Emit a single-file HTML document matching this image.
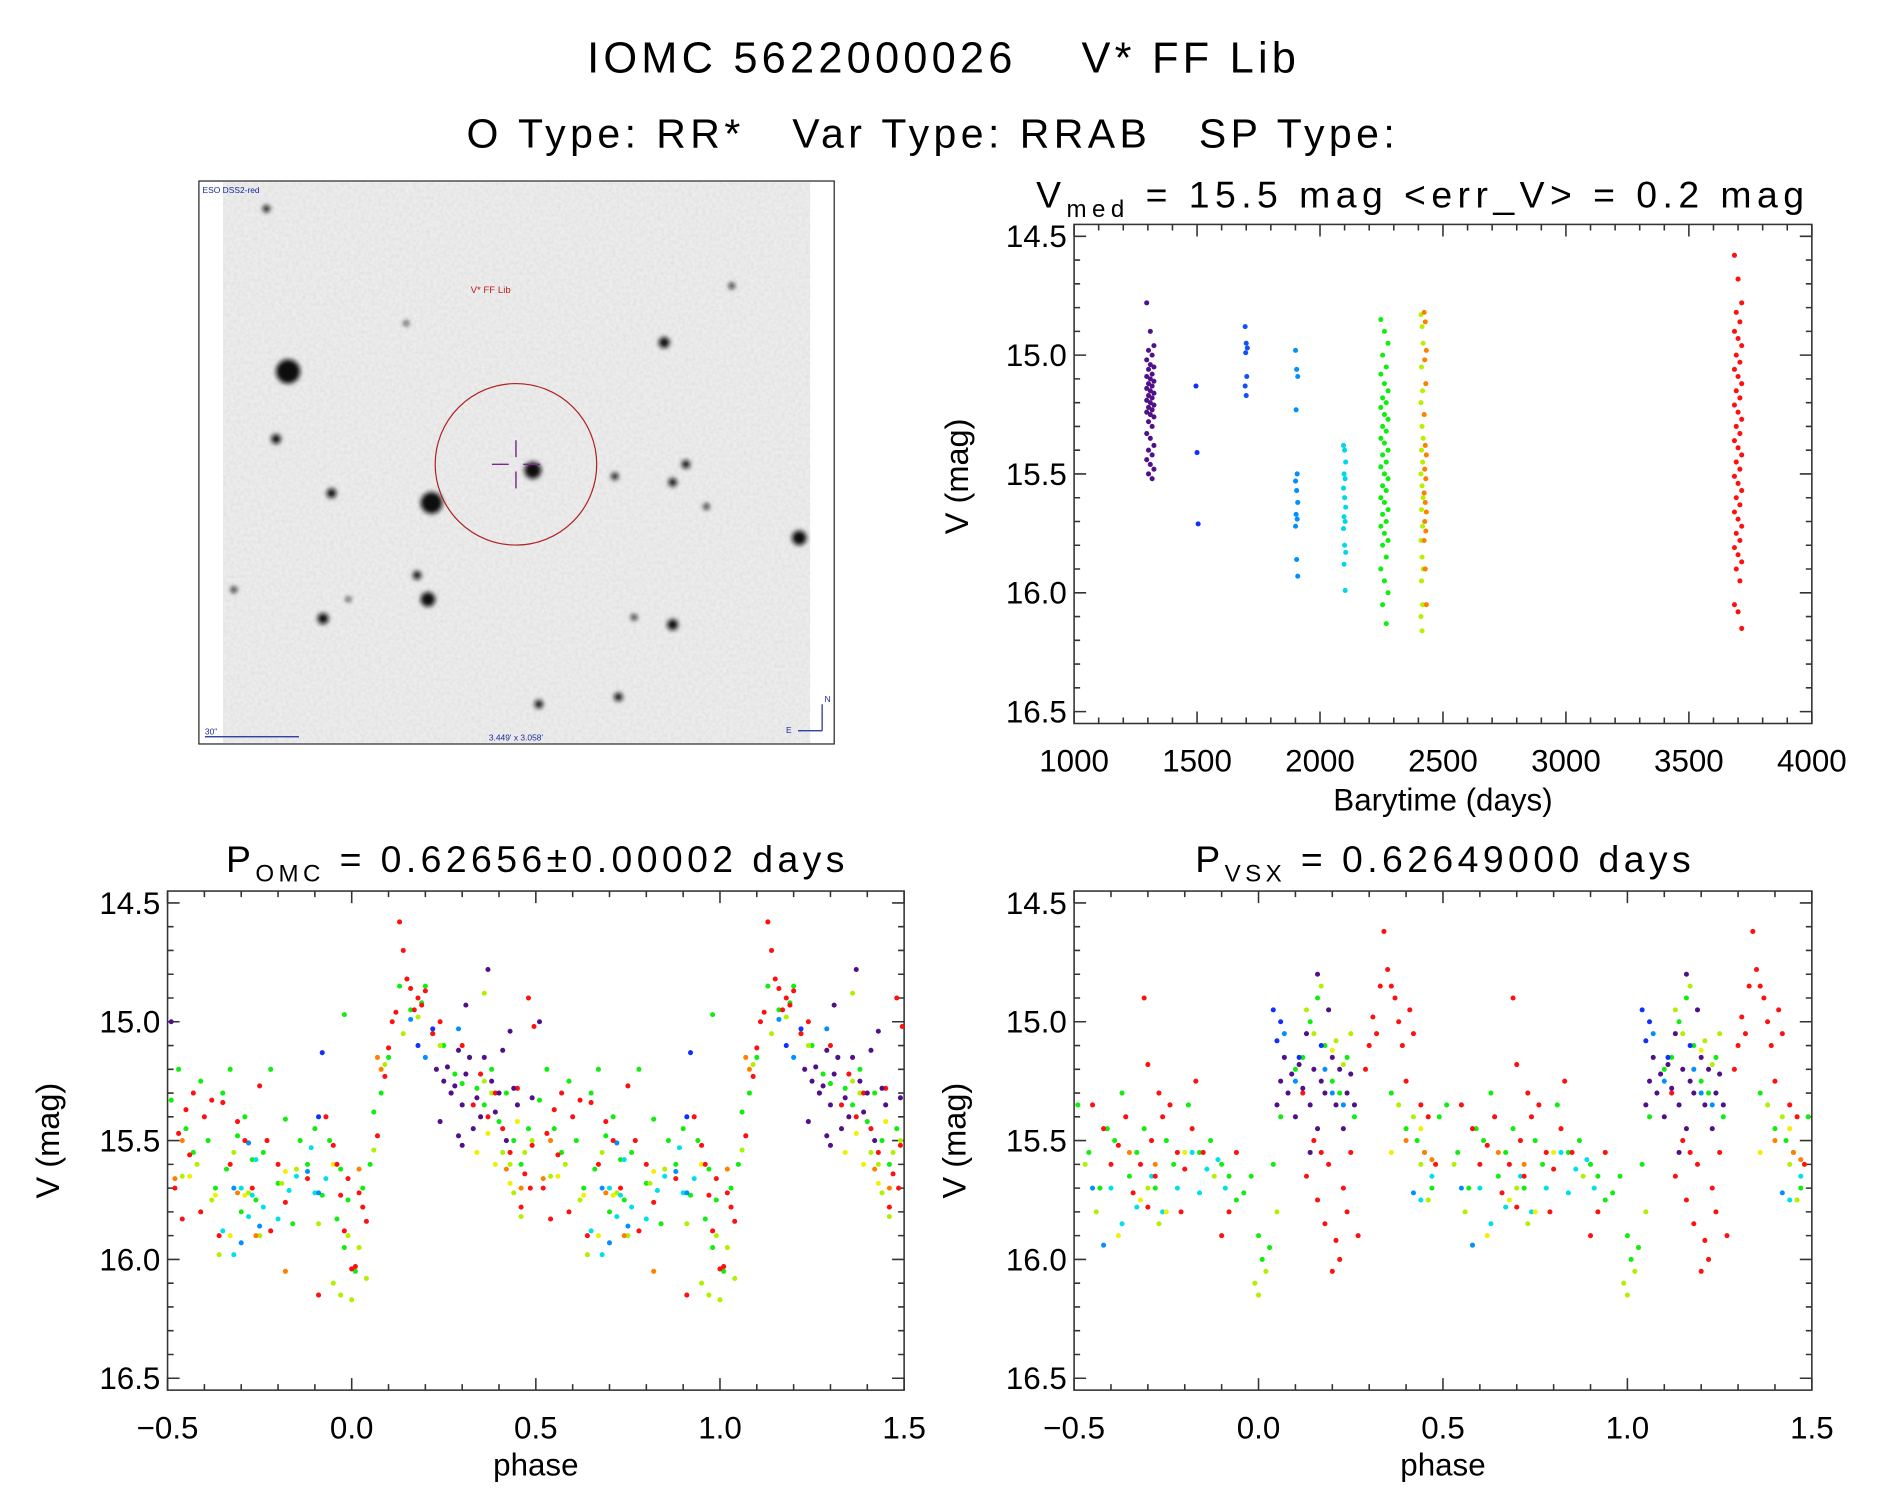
<!DOCTYPE html>
<html><head><meta charset="utf-8">
<style>
html,body{margin:0;padding:0;background:#fff;}
svg{display:block;font-family:"Liberation Sans",sans-serif;}
</style></head>
<body>
<svg id="fig" width="1889" height="1494" viewBox="0 0 1567 1239" xmlns="http://www.w3.org/2000/svg">
<defs>
<filter id="grain" x="0" y="0" width="100%" height="100%">
<feTurbulence type="fractalNoise" baseFrequency="0.35" numOctaves="2" seed="3" result="n"/>
<feColorMatrix type="matrix" values="0 0 0 0 0.55  0 0 0 0 0.55  0 0 0 0 0.55  0 0 0 0.9 -0.3"/>
</filter>
<filter id="blur"><feGaussianBlur stdDeviation="2"/></filter>
</defs>
<text x="781" y="60" font-size="36" text-anchor="middle" textLength="588" lengthAdjust="spacing" xml:space="preserve">IOMC 5622000026    V* FF Lib</text>
<text x="772" y="122" font-size="34" text-anchor="middle" textLength="770" lengthAdjust="spacing" xml:space="preserve">O Type: RR*   Var Type: RRAB   SP Type:</text>

<g>
<rect x="165" y="150" width="527" height="467" fill="#fff" stroke="#222" stroke-width="1"/>
<rect x="185" y="151" width="487" height="465" fill="#ececec"/>
<rect x="185" y="151" width="487" height="465" fill="#fff" filter="url(#grain)" opacity="0.55"/>
<g id="stars" filter="url(#blur)"></g>
<circle cx="428" cy="385" r="67" fill="none" stroke="#b02020" stroke-width="1"/>
<path d="M408 385 H422 M434 385 H448 M428 365 V379 M428 391 V405" stroke="#7a2a8a" stroke-width="1.2"/>
<text x="407" y="243" font-size="8" fill="#c02020" text-anchor="middle">V* FF Lib</text>
<text x="168" y="160" font-size="7" fill="#1a2a9a">ESO DSS2-red</text>
<text x="170" y="609" font-size="7" fill="#1a2a9a">30"</text>
<line x1="170" y1="611" x2="248" y2="611" stroke="#1a2a9a" stroke-width="1"/>
<text x="428" y="614" font-size="7" fill="#1a2a9a" text-anchor="middle">3.449' x 3.058'</text>
<path d="M682 606 V584 M682 606 H662" stroke="#1a2a9a" stroke-width="1" fill="none"/>
<text x="684" y="582" font-size="7" fill="#1a2a9a">N</text>
<text x="652" y="608" font-size="7" fill="#1a2a9a">E</text>
</g>

<g id="plotTR"></g>
<g id="plotBL"></g>
<g id="plotBR"></g>
</svg>
<script>
// ---- star field data ----
const starX=[239,358,442,551,229,275,355,346,268,558,663,569,558,510,221,447,513,607,337,194,526,586,289];
const starY=[308,417,390,284,364,409,497,477,513,518,446,385,400,395,173,584,578,237,268,489,512,420,497];
const starR=[10,9,7,4.5,4,4,6,3.5,4.5,4.5,6,3.5,3.5,3,3,3.5,3.5,2.5,2,2.5,2.5,2.5,2];

// ---- time-series data ----
const tsTimes=[1310,1500,1700,1905,2100,2262,2415,2428,3700];
const tsColors=["#50108a","#1030ff","#1050ff","#0090ff","#00d8e8","#10ee10","#b8f000","#ff8000","#ff1010"];
const tsMag1310=[14.78,14.90,14.96,14.98,15.00,15.02,15.04,15.05,15.06,15.08,15.09,15.10,15.11,15.12,15.13,15.14,15.15,15.16,15.17,15.18,15.19,15.20,15.21,15.22,15.23,15.24,15.25,15.26,15.28,15.30,15.33,15.35,15.38,15.40,15.42,15.44,15.46,15.48,15.50,15.52];
const tsMag1500=[15.13,15.41,15.71];
const tsMag1700=[14.88,14.95,14.97,14.99,15.09,15.13,15.17];
const tsMag1905=[14.98,15.06,15.09,15.23,15.50,15.53,15.57,15.62,15.67,15.69,15.72,15.86,15.93];
const tsMag2100=[15.38,15.40,15.45,15.50,15.52,15.56,15.60,15.64,15.68,15.70,15.73,15.80,15.83,15.88,15.99];
const tsMag2262=[14.85,14.90,14.95,15.00,15.05,15.08,15.12,15.15,15.18,15.20,15.22,15.25,15.27,15.30,15.32,15.35,15.37,15.40,15.42,15.45,15.47,15.50,15.52,15.55,15.57,15.60,15.62,15.65,15.67,15.70,15.72,15.75,15.78,15.80,15.85,15.90,15.95,16.00,16.05,16.13];
const tsMag2415=[14.83,14.88,14.95,15.05,15.15,15.20,15.30,15.35,15.40,15.45,15.50,15.55,15.60,15.65,15.72,15.78,15.85,15.90,15.95,16.05,16.10,16.16];
const tsMag2428=[14.82,14.86,14.98,15.02,15.12,15.25,15.38,15.42,15.48,15.52,15.58,15.62,15.66,15.70,15.74,15.78,15.90,16.05];
const tsMag3700=[14.58,14.68,14.78,14.82,14.86,14.90,14.93,14.96,15.00,15.03,15.06,15.09,15.12,15.15,15.18,15.21,15.24,15.27,15.30,15.33,15.36,15.39,15.42,15.45,15.48,15.51,15.54,15.57,15.60,15.63,15.66,15.69,15.72,15.75,15.78,15.81,15.84,15.87,15.90,15.95,16.05,16.08,16.15];
const tsMags=[tsMag1310,tsMag1500,tsMag1700,tsMag1905,tsMag2100,tsMag2262,tsMag2415,tsMag2428,tsMag3700];

// ---- OMC phase data (base phase in [-0.5,0.5), plotted at p and p+1) ----
const omcRed=[[-0.48,15.70],[-0.47,15.47],[-0.46,15.83],[-0.45,15.37],[-0.44,15.56],[-0.43,15.30],[-0.41,15.80],[-0.40,15.40],[-0.38,15.33],[-0.36,15.90],[-0.35,15.34],[-0.33,15.60],[-0.31,15.42],[-0.29,15.50],[-0.27,15.70],[-0.25,15.27],[-0.23,15.50],[-0.22,15.88],[-0.20,15.60],[-0.18,15.76],[-0.12,15.66],[-0.09,16.15],[-0.07,15.40],[-0.05,15.52],[-0.04,15.60],[-0.03,15.73],[-0.02,15.88],[-0.01,15.66],[0.0,16.04],[0.01,16.03],[0.02,15.72],[0.03,15.78],[0.04,15.84],[0.07,15.48],[0.09,15.23],[0.10,15.11],[0.11,15.00],[0.12,14.96],[0.13,14.58],[0.14,14.70],[0.15,14.82],[0.16,14.86],[0.17,14.95],[0.18,14.90],[0.19,14.93],[0.20,14.87],[0.22,15.05],[0.24,15.00],[0.27,15.30],[0.30,15.10],[0.33,15.35],[0.35,15.22],[0.37,15.40],[0.39,15.30],[0.41,15.45],[0.43,15.55],[0.45,15.28],[0.46,15.78],[0.47,15.64],[0.49,15.52],[0.485,15.70],[0.48,14.90],[0.495,15.02]];
const omcGreen=[[-0.49,15.33],[-0.47,15.20],[-0.45,15.45],[-0.43,15.55],[-0.41,15.25],[-0.39,15.50],[-0.37,15.70],[-0.35,15.30],[-0.34,15.62],[-0.33,15.20],[-0.31,15.48],[-0.30,15.80],[-0.29,15.40],[-0.27,15.58],[-0.26,15.75],[-0.24,15.55],[-0.22,15.20],[-0.20,15.68],[-0.18,15.41],[-0.16,15.85],[-0.14,15.50],[-0.12,15.60],[-0.10,15.45],[-0.08,15.73],[-0.06,15.50],[-0.04,15.83],[-0.03,15.62],[-0.02,15.95],[-0.01,15.75],[0.01,16.05],[0.03,15.70],[0.05,15.60],[0.06,15.38],[0.08,15.30],[0.10,15.15],[0.13,14.85],[0.16,14.95],[0.19,14.92],[0.22,15.05],[0.25,15.10],[0.28,15.22],[0.30,15.26],[0.32,15.15],[0.34,15.28],[0.36,15.35],[0.38,15.20],[0.40,15.42],[0.42,15.30],[0.44,15.50],[0.46,15.60],[0.48,15.45],[0.20,14.85],[-0.02,14.97]];
const omcLime=[[-0.46,15.65],[-0.42,15.60],[-0.38,15.75],[-0.36,15.98],[-0.32,15.55],[-0.28,15.72],[-0.25,15.90],[-0.19,15.68],[-0.15,15.62],[-0.09,15.85],[-0.05,16.10],[-0.03,16.15],[-0.01,15.90],[0.0,16.17],[0.02,15.95],[0.04,16.08],[0.06,15.54],[0.09,15.18],[0.14,15.05],[0.18,14.98],[0.24,15.10],[0.36,15.25],[0.38,15.30],[0.41,15.55],[0.43,15.60],[0.44,15.72],[0.46,15.82],[0.47,15.55],[0.49,15.50],[0.36,14.88]];
const omcCyan=[[-0.35,15.88],[-0.32,15.98],[-0.28,15.82],[-0.27,15.73],[-0.24,15.78],[-0.20,15.83],[-0.17,15.71],[-0.15,15.65],[-0.11,15.53],[-0.10,15.72],[-0.07,15.66],[-0.26,15.58],[-0.30,15.70]];
const omcSky=[[-0.32,15.70],[-0.28,15.51],[-0.25,15.86],[-0.30,15.93],[-0.12,15.63],[0.29,15.03],[0.20,15.15],[0.16,14.99],[-0.09,15.72]];
const omcBlue=[[-0.08,15.13],[0.18,15.10],[0.22,15.03],[-0.09,15.40]];
const omcPurple=[[0.23,15.20],[0.25,15.25],[0.26,15.19],[0.27,15.30],[0.28,15.27],[0.29,15.12],[0.30,15.35],[0.31,15.22],[0.32,15.15],[0.33,15.45],[0.34,15.32],[0.35,15.40],[0.36,15.15],[0.37,14.78],[0.38,15.25],[0.39,15.38],[0.40,15.30],[0.41,15.12],[0.42,15.50],[0.43,15.04],[0.44,15.28],[0.45,15.35],[0.29,15.48],[0.30,15.52],[0.24,15.42],[0.31,14.93],[-0.49,15.0],[0.49,15.32]];
const omcYellow=[[-0.44,15.65],[-0.37,15.73],[-0.33,15.90],[-0.29,15.73],[-0.18,15.63],[-0.05,15.60],[0.34,15.55],[0.37,15.47],[0.39,15.60],[0.43,15.68],[0.45,15.42]];
const omcOrange=[[-0.48,15.66],[-0.31,15.72],[-0.26,15.90],[-0.18,16.05],[0.07,15.15],[0.08,15.20],[0.02,15.62],[0.42,15.62],[0.46,15.70],[-0.46,15.50]];

// ---- VSX phase data ----
const vsxRed=[[-0.45,15.35],[-0.42,15.45],[-0.40,15.60],[-0.38,15.52],[-0.36,15.40],[-0.34,15.72],[-0.32,15.60],[-0.30,15.78],[-0.29,15.50],[-0.28,15.65],[-0.26,15.40],[-0.24,15.35],[-0.22,15.55],[-0.21,15.80],[-0.20,15.62],[-0.18,15.45],[-0.17,15.25],[-0.15,15.55],[-0.27,15.30],[-0.31,14.90],[-0.30,15.18],[0.12,15.30],[0.13,15.65],[0.15,15.50],[0.16,15.75],[0.17,15.55],[0.18,15.85],[0.19,15.60],[0.20,16.05],[0.21,15.92],[0.22,16.00],[0.23,15.70],[0.24,15.80],[0.25,15.55],[0.27,15.90],[0.29,15.20],[0.30,15.10],[0.31,14.98],[0.32,15.05],[0.33,14.85],[0.34,14.62],[0.35,14.78],[0.36,14.85],[0.37,14.90],[0.38,15.00],[0.39,15.10],[0.40,15.25],[0.41,14.95],[0.42,15.05],[0.44,15.35],[0.46,15.40],[-0.06,15.55],[-0.08,15.80],[-0.10,15.90],[0.48,15.60]];
const vsxGreen=[[-0.49,15.35],[-0.46,15.55],[-0.43,15.70],[-0.41,15.45],[-0.39,15.50],[-0.37,15.30],[-0.35,15.65],[-0.33,15.55],[-0.31,15.45],[-0.28,15.70],[-0.25,15.50],[-0.23,15.60],[-0.19,15.35],[-0.16,15.55],[-0.13,15.50],[-0.10,15.60],[-0.08,15.65],[-0.06,15.75],[-0.04,15.72],[-0.02,15.65],[0.0,15.90],[0.01,16.00],[0.03,15.95],[0.04,15.60],[0.06,15.40],[0.10,15.20],[0.12,15.15],[0.14,15.00],[0.16,14.90],[0.18,15.10],[0.20,15.25],[0.22,15.30],[0.24,15.15],[0.26,15.40],[0.36,15.30],[0.40,15.45],[0.43,15.50],[0.45,15.55],[0.47,15.70],[0.49,15.40]];
const vsxLime=[[-0.47,15.60],[-0.44,15.80],[-0.30,15.70],[-0.27,15.85],[-0.12,15.65],[-0.01,16.10],[0.0,16.15],[0.02,16.05],[0.05,15.80],[0.13,14.95],[0.15,15.05],[0.17,14.85],[0.19,14.95],[0.21,15.08],[0.23,15.18],[0.25,15.05],[0.38,15.35],[0.42,15.40],[0.44,15.60],[0.46,15.75]];
const vsxCyan=[[-0.40,15.70],[-0.37,15.85],[-0.33,15.78],[-0.29,15.65],[-0.26,15.80],[-0.22,15.70],[-0.18,15.55],[-0.16,15.72],[-0.14,15.62],[-0.11,15.58],[-0.09,15.70],[0.47,15.65],[0.44,15.75]];
const vsxSky=[[-0.45,15.70],[-0.42,15.94],[0.07,15.05],[0.10,15.25],[0.20,15.30],[0.23,15.35],[0.18,15.20],[0.42,15.72]];
const vsxBlue=[[0.04,14.95],[0.05,15.08],[0.06,15.00],[0.17,15.10],[0.11,15.15]];
const vsxPurple=[[0.05,15.35],[0.06,15.25],[0.07,15.15],[0.08,15.30],[0.09,15.22],[0.10,15.40],[0.11,15.18],[0.12,15.28],[0.13,15.05],[0.14,15.35],[0.15,15.20],[0.16,15.45],[0.17,15.25],[0.18,15.30],[0.19,14.95],[0.20,15.15],[0.21,15.35],[0.22,15.20],[0.23,15.45],[0.24,15.30],[0.16,14.80],[0.25,15.22],[0.26,15.35],[0.14,15.55]];
const vsxYellow=[[-0.38,15.90],[-0.32,15.75],[-0.25,15.80],[-0.20,15.55],[0.20,15.12],[0.36,15.55],[0.44,15.45],[0.48,15.60]];
const vsxOrange=[[-0.35,15.55],[-0.28,15.60],[0.40,15.50],[0.45,15.55],[0.47,15.58]];

const yTickLabels=["14.5","15.0","15.5","16.0","16.5"];
const yTickVals=[14.5,15.0,15.5,16.0,16.5];
const tsXTickVals=[1000,1500,2000,2500,3000,3500,4000];
const phXTickVals=[-0.5,0.0,0.5,1.0,1.5];
const phXTickLabels=["\u22120.5","0.0","0.5","1.0","1.5"];

const NS="http://www.w3.org/2000/svg";
function mk(parent,tag,attrs){const e=document.createElementNS(NS,tag);for(const k in attrs)e.setAttribute(k,attrs[k]);parent.appendChild(e);return e;}

// stars
const sg=document.getElementById('stars');
for(let i=0;i<starX.length;i++){
  const c=mk(sg,'circle',{cx:starX[i],cy:starY[i],r:starR[i],fill:'#111'});
  
  
}

function axes(g,box,xmin,xmax,ymin,ymax,xMajor,xMinor,xTicks,xLabels,yMinor){
  const sx=v=>box.x0+(v-xmin)/(xmax-xmin)*(box.x1-box.x0);
  const sy=v=>box.y0+(v-ymin)/(ymax-ymin)*(box.y1-box.y0);
  const fr=mk(g,'rect',{x:box.x0,y:box.y0,width:box.x1-box.x0,height:box.y1-box.y0,fill:'none',stroke:'#333','stroke-width':1.3});
  
  
  let d='';
  for(let v=xmin;v<=xmax+1e-9;v+=xMinor){
    const isMaj=Math.abs(v/xMajor-Math.round(v/xMajor))<1e-6;const L=isMaj?10:5;const x=sx(v);
    d+=`M${x} ${box.y1}v${-L}M${x} ${box.y0}v${L}`;
  }
  for(let v=Math.ceil(ymin/yMinor)*yMinor;v<=ymax;v+=yMinor){
    const isMaj=Math.abs(v/0.5-Math.round(v/0.5))<1e-6;const L=isMaj?10:5;const y=sy(v);
    d+=`M${box.x0} ${y}h${L}M${box.x1} ${y}h${-L}`;
  }
  const tk=mk(g,'path',{d:d,stroke:'#333','stroke-width':1.3,fill:'none'});
  
  
  yTickVals.forEach((v,i)=>{
    const t=mk(g,'text',{x:box.x0-6,y:sy(v)+9,'font-size':26,'text-anchor':'end'});
    t.textContent=yTickLabels[i];
    
    
  });
  xTicks.forEach((v,i)=>{
    const t=mk(g,'text',{x:sx(v),y:box.y1+40,'font-size':26,'text-anchor':'middle'});
    t.textContent=xLabels[i];
    
    
  });
  return {sx,sy};
}
function dot(g,x,y,col){
  const c=mk(g,'circle',{cx:x,cy:y,r:2.1,fill:col});
  
  
}
function text(g,x,y,size,str,anchor,name,rot){
  const t=mk(g,'text',{x:x,y:y,'font-size':size,'text-anchor':anchor||'middle'});
  if(rot)t.setAttribute('transform',`rotate(-90 ${x} ${y})`);
  t.textContent=str;
  
  
  return t;
}
function subTitle(g,x,y,main,sub,rest,name,w){
  const t=mk(g,'text',{x:x,y:y,'font-size':31,'text-anchor':'middle',textLength:w,lengthAdjust:'spacing'});
  
  
  t.setAttribute('xml:space','preserve');
  const a=mk(t,'tspan',{});a.textContent=main;
  const b=mk(t,'tspan',{'font-size':20,dy:8});b.textContent=sub;
  const c=mk(t,'tspan',{dy:-8});c.textContent=rest;
}

// Top-right time series
const gTR=document.getElementById('plotTR');
const aTR=axes(gTR,{x0:891,x1:1503,y0:186,y1:600},1000,4000,14.45,16.55,500,100,tsXTickVals,tsXTickVals.map(String),0.1);
const jit=[-3,0,3,-1.5,1.5];
tsTimes.forEach((t,gi)=>{
  tsMags[gi].forEach((m,i)=>dot(gTR,aTR.sx(t)+jit[i%5]*(gi===0||gi===5||gi===8?1:0.3),aTR.sy(m),tsColors[gi]));
});
subTitle(gTR,1178,172,"V","med"," = 15.5 mag <err_V> = 0.2 mag","ts-title",637);
text(gTR,1197,672,26,"Barytime (days)","middle","x-axis-title");
text(gTR,803,395,27,"V (mag)","middle","y-axis-title",true);

const phColors={red:"#ff1010",green:"#10ee10",lime:"#b0f000",cyan:"#00e0e8",sky:"#0090ff",blue:"#1030ff",purple:"#50108a",yellow:"#f0f000",orange:"#ff8000"};
function phasePlot(gid,x0,x1,sets){
  const g=document.getElementById(gid);
  const a=axes(g,{x0:x0,x1:x1,y0:739,y1:1153},-0.5,1.5,14.45,16.55,0.5,0.1,phXTickVals,phXTickLabels,0.1);
  sets.forEach(([arr,col])=>{arr.forEach(([p,m])=>{dot(g,a.sx(p),a.sy(m),col);dot(g,a.sx(p+1),a.sy(m),col);});});
  text(g,(x0+x1)/2,1224,26,"phase","middle","x-axis-title");
  text(g,x0-90,946,27,"V (mag)","middle","y-axis-title",true);
  return g;
}
const gBL=phasePlot('plotBL',139,750,[[omcGreen,phColors.green],[omcLime,phColors.lime],[omcCyan,phColors.cyan],[omcSky,phColors.sky],[omcYellow,phColors.yellow],[omcOrange,phColors.orange],[omcRed,phColors.red],[omcPurple,phColors.purple],[omcBlue,phColors.blue]]);
subTitle(gBL,444,723,"P","OMC"," = 0.62656\u00b10.00002 days","omc-title",513);
const gBR=phasePlot('plotBR',891,1503,[[vsxGreen,phColors.green],[vsxLime,phColors.lime],[vsxCyan,phColors.cyan],[vsxSky,phColors.sky],[vsxYellow,phColors.yellow],[vsxOrange,phColors.orange],[vsxRed,phColors.red],[vsxPurple,phColors.purple],[vsxBlue,phColors.blue]]);
subTitle(gBR,1197,723,"P","VSX"," = 0.62649000 days","vsx-title",411);
</script>
</body></html>
